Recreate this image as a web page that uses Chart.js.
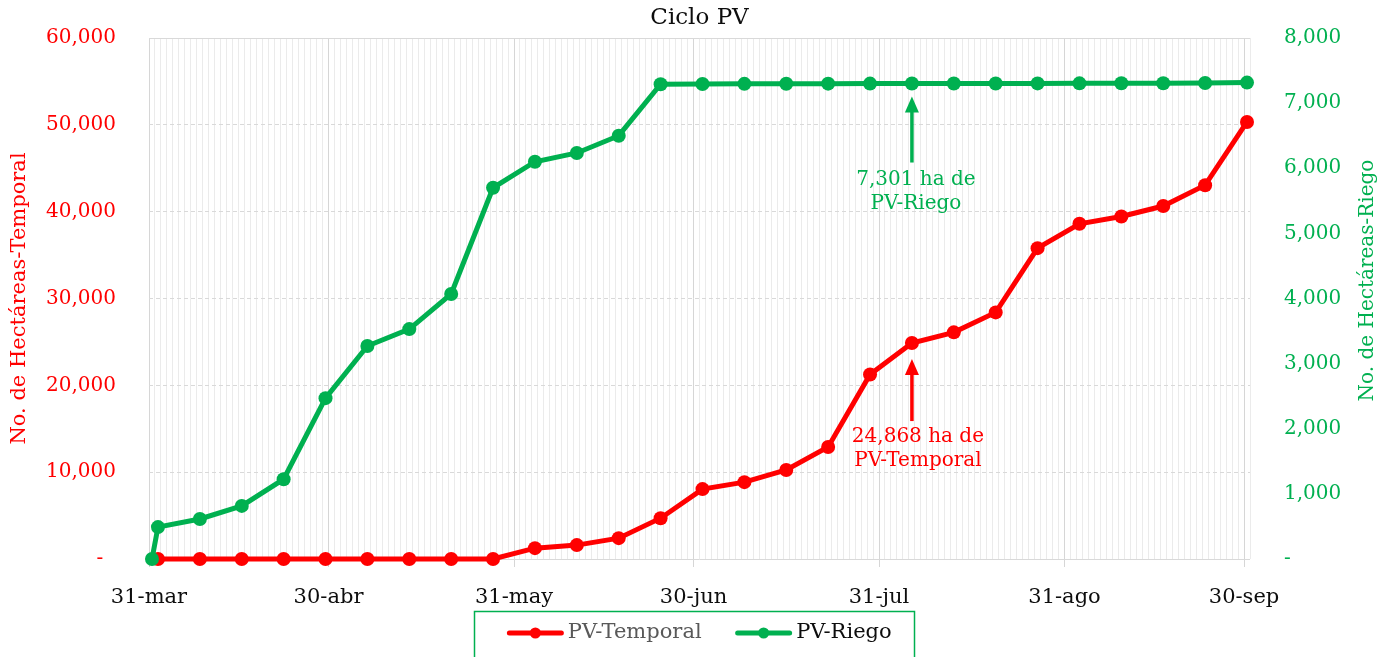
<!DOCTYPE html>
<html>
<head>
<meta charset="utf-8">
<script src="https://cdn.jsdelivr.net/npm/chart.js@4.4.1/dist/chart.umd.min.js"></script>
<style>
html,body{margin:0;padding:0;background:#ffffff;}
#wrap{width:1387px;height:657px;}
</style>
</head>
<body>
<div id="wrap"><canvas id="c" width="1387" height="657"></canvas></div>
<script>
// ---- Data (days counted from 31-mar) ----
const monthTickDays   = [0, 30, 61, 91, 122, 153, 183];
const monthTickLabels = ['31-mar', '30-abr', '31-may', '30-jun', '31-jul', '31-ago', '30-sep'];

const riegoDays   = [0, 1, 8, 15, 22, 29, 36, 43, 50, 57, 64, 71, 78, 85, 92, 99, 106, 113, 120, 127, 134, 141, 148, 155, 162, 169, 176, 183];
const riegoValues = [0, 490, 615, 815, 1225, 2470, 3270, 3530, 4070, 5700, 6100, 6235, 6500, 7290, 7294, 7296, 7298, 7299, 7300, 7301, 7302, 7302, 7303, 7304, 7305, 7306, 7308, 7315];

const temporalDays   = [1, 8, 15, 22, 29, 36, 43, 50, 57, 64, 71, 78, 85, 92, 99, 106, 113, 120, 127, 134, 141, 148, 155, 162, 169, 176, 183];
const temporalValues = [0, 0, 0, 0, 0, 0, 0, 0, 0, 1250, 1600, 2400, 4700, 8050, 8850, 10250, 12900, 21250, 24868, 26100, 28400, 35800, 38600, 39450, 40650, 43050, 50330];

const leftTicks  = [0, 10000, 20000, 30000, 40000, 50000, 60000];
const rightTicks = [0, 1000, 2000, 3000, 4000, 5000, 6000, 7000, 8000];

const annotationDay = 127;
const seriesNames = ['PV-Temporal', 'PV-Riego'];
const RED = '#ff0000', GREEN = '#00b050';
const FONT = "'DejaVu Serif', serif";

Chart.defaults.font.family = FONT;

const toPoints = (days, vals) => days.map((d, i) => ({ x: d + 0.5, y: vals[i] }));
const allDays = Array.from({ length: 185 }, (_, i) => i);
const isMajor = v => monthTickDays.includes(v);

const extras = {
  id: 'extras',
  afterLayout(chart) {
    // let the legend box start higher (it has no background) so its text sits where the reference has it
    const lg = chart.legend;
    lg.top = lg.bottom - 72;
    lg.height = 72;
  },
  afterDraw(chart) {
    const ctx = chart.ctx;
    const ca = chart.chartArea;
    // legend markers + border
    const hb = chart.legend.legendHitBoxes;
    hb.forEach((b, i) => {
      const col = chart.data.datasets[i].borderColor;
      const cy = b.top + b.height / 2;
      ctx.save();
      ctx.strokeStyle = col; ctx.lineWidth = 5; ctx.lineCap = 'round';
      ctx.beginPath(); ctx.moveTo(b.left + 2, cy); ctx.lineTo(b.left + 54, cy); ctx.stroke();
      ctx.fillStyle = col;
      ctx.beginPath(); ctx.arc(b.left + 28, cy, 5.5, 0, Math.PI * 2); ctx.fill();
      ctx.restore();
    });
    if (hb.length) {
      const l = Math.round(hb[0].left - 33) + 0.5;
      const last = hb[hb.length - 1];
      const r = Math.round(last.left + last.width + 22) + 0.5;
      const t = Math.round(hb[0].top - 8) + 0.5;
      ctx.save();
      ctx.strokeStyle = GREEN; ctx.lineWidth = 1.5;
      ctx.strokeRect(l, t, r - l, 80);
      ctx.restore();
    }
    // annotations
    const xs = chart.scales.x, yl = chart.scales.y, yr = chart.scales.y1;
    const px = xs.getPixelForValue(annotationDay + 0.5);
    const gi = riegoDays.indexOf(annotationDay), ti = temporalDays.indexOf(annotationDay);
    const drawArrow = (x, tip, bottom, col) => {
      ctx.save();
      ctx.strokeStyle = col; ctx.fillStyle = col; ctx.lineWidth = 3.5;
      ctx.beginPath(); ctx.moveTo(x, bottom); ctx.lineTo(x, tip + 12); ctx.stroke();
      ctx.beginPath(); ctx.moveTo(x, tip); ctx.lineTo(x - 7, tip + 16); ctx.lineTo(x + 7, tip + 16); ctx.closePath(); ctx.fill();
      ctx.restore();
    };
    const drawText = (lines, x, y0, col) => {
      ctx.save();
      ctx.fillStyle = col; ctx.font = "20px " + FONT; ctx.textAlign = 'center'; ctx.textBaseline = 'middle';
      lines.forEach((s, k) => ctx.fillText(s, x, y0 + k * 24));
      ctx.restore();
    };
    const gy = yr.getPixelForValue(riegoValues[gi]);
    drawArrow(px, gy + 13, gy + 79, GREEN);
    drawText([riegoValues[gi].toLocaleString('en-US') + ' ha de', seriesNames[1]], px + 4, gy + 96, GREEN);
    const ry = yl.getPixelForValue(temporalValues[ti]);
    drawArrow(px, ry + 16, ry + 78, RED);
    drawText([temporalValues[ti].toLocaleString('en-US') + ' ha de', seriesNames[0]], px + 6, ry + 94, RED);
    // right axis title (reads bottom to top)
    ctx.save();
    ctx.translate(yr.right - 19, (ca.top + ca.bottom) / 2 - 18);
    ctx.rotate(-Math.PI / 2);
    ctx.fillStyle = GREEN; ctx.font = "20px " + FONT; ctx.textAlign = 'center'; ctx.textBaseline = 'middle';
    ctx.fillText('No. de Hectáreas-Riego', 0, 0);
    ctx.restore();
  }
};

new Chart(document.getElementById('c'), {
  type: 'line',
  data: {
    datasets: [
      { label: seriesNames[0], data: toPoints(temporalDays, temporalValues), yAxisID: 'y',
        borderColor: RED, backgroundColor: RED, borderWidth: 5, pointRadius: 7, pointHoverRadius: 7,
        pointBorderWidth: 0, tension: 0, clip: false, order: 1 },
      { label: seriesNames[1], data: toPoints(riegoDays, riegoValues), yAxisID: 'y1',
        borderColor: GREEN, backgroundColor: GREEN, borderWidth: 5, pointRadius: 7, pointHoverRadius: 7,
        pointBorderWidth: 0, tension: 0, clip: false, order: 0 }
    ]
  },
  options: {
    responsive: false,
    animation: false,
    devicePixelRatio: 1,
    layout: { padding: 0 },
    plugins: {
      tooltip: { enabled: false },
      title: {
        display: true, text: 'Ciclo PV', color: '#0d0d0d', fullSize: false,
        font: { family: FONT, size: 23, weight: 'normal' }, padding: { top: 4, bottom: 6.4 }
      },
      legend: {
        display: true, position: 'bottom', fullSize: false, maxHeight: 46,
        labels: {
          font: { family: FONT, size: 21 }, boxWidth: 50, boxHeight: 28, padding: 34,
          generateLabels: chart => chart.data.datasets.map((ds, i) => ({
            text: ds.label, fillStyle: 'rgba(0,0,0,0)', strokeStyle: 'rgba(0,0,0,0)', lineWidth: 0,
            hidden: false, datasetIndex: i, fontColor: i === 0 ? '#595959' : '#0d0d0d'
          }))
        }
      }
    },
    scales: {
      x: {
        type: 'linear', min: 0, max: 184,
        afterBuildTicks: s => { s.ticks = allDays.map(v => ({ value: v })); },
        afterFit: s => { s.height = 52; },
        ticks: {
          autoSkip: false, maxRotation: 0, minRotation: 0, color: '#0d0d0d', padding: 18,
          font: { family: FONT, size: 21 },
          callback: v => { const k = monthTickDays.indexOf(v); return k >= 0 ? monthTickLabels[k] : ''; }
        },
        grid: {
          color: c => (c.tick && isMajor(c.tick.value)) ? '#d6d6d6' : '#ebebeb',
          tickColor: c => (c.tick && isMajor(c.tick.value)) ? '#d6d6d6' : 'rgba(0,0,0,0)',
          tickLength: 8, lineWidth: 1
        },
        border: { display: false }
      },
      y: {
        position: 'left', min: 0, max: 60000,
        afterBuildTicks: s => { s.ticks = leftTicks.map(v => ({ value: v })); },
        afterFit: s => { s.width = 149; },
        ticks: {
          color: RED, padding: 0, font: { family: FONT, size: 20 },
          callback: v => v === 0 ? '-  ' : v.toLocaleString('en-US')
        },
        grid: { color: '#d9d9d9', drawTicks: true, tickLength: 33, tickColor: 'rgba(0,0,0,0)', lineWidth: 1 },
        border: { display: false, dash: c => (c.tick && (c.tick.value === 0 || c.tick.value === 60000)) ? [] : [4, 3] },
        title: {
          display: true, text: 'No. de Hectáreas-Temporal', color: RED,
          font: { family: FONT, size: 21 }, padding: { top: 7, bottom: 0 }
        }
      },
      y1: {
        position: 'right', min: 0, max: 8000,
        afterBuildTicks: s => { s.ticks = rightTicks.map(v => ({ value: v })); },
        afterFit: s => { s.width = 137; },
        ticks: {
          color: GREEN, padding: 0, font: { family: FONT, size: 20 },
          callback: v => v === 0 ? '-' : v.toLocaleString('en-US')
        },
        grid: { drawOnChartArea: false, drawTicks: true, tickLength: 34, tickColor: 'rgba(0,0,0,0)' },
        border: { display: false }
      }
    }
  },
  plugins: [extras]
});
</script>
</body>
</html>
